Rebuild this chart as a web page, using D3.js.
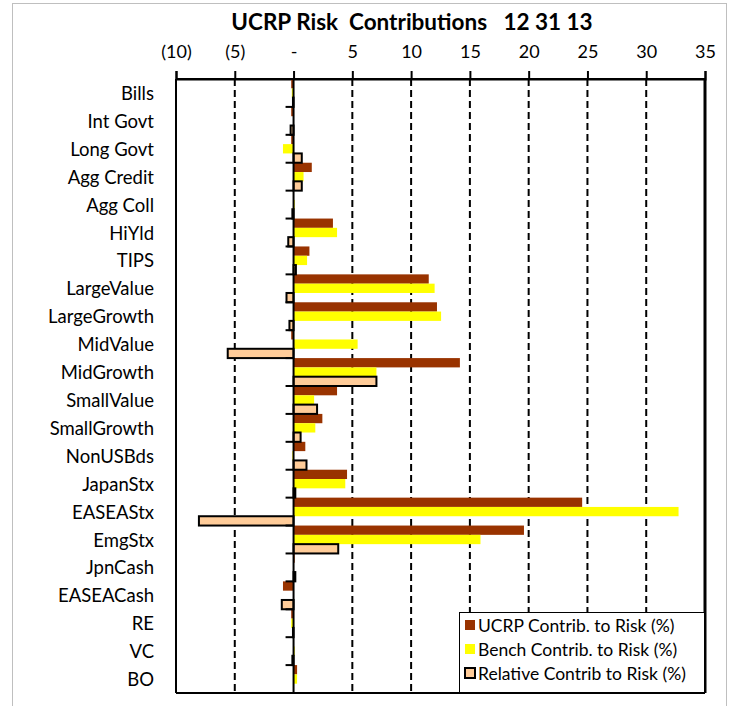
<!DOCTYPE html>
<html>
<head>
<meta charset="utf-8">
<script src="https://cdn.jsdelivr.net/npm/d3@7"></script>
<style>
  body { margin: 0; background: white; }
  text { font-family: Lato, "Open Sans", sans-serif; fill: #000; }
</style>
</head>
<body>
<script>
// data
var categories = ["Bills", "Int Govt", "Long Govt", "Agg Credit", "Agg Coll", "HiYld", "TIPS",
  "LargeValue", "LargeGrowth", "MidValue", "MidGrowth", "SmallValue", "SmallGrowth", "NonUSBds",
  "JapanStx", "EASEAStx", "EmgStx", "JpnCash", "EASEACash", "RE", "VC", "BO"];
var ucrp  = [-0.2, -0.2, -0.2, 1.55, 0.0, 3.35, 1.35, 11.5, 12.2, -0.2, 14.15, 3.7, 2.45, 1.0,
  4.55, 24.55, 19.6, 0.1, -0.9, -0.2, 0.0, 0.3];
var bench = [-0.15, 0.0, -0.9, 0.85, 0.1, 3.7, 1.15, 12.0, 12.55, 5.45, 7.05, 1.75, 1.85, -0.1,
  4.4, 32.75, 15.9, 0.0, 0.0, -0.2, 0.1, 0.3];
var rel   = [-0.05, -0.25, 0.7, 0.7, -0.1, -0.45, 0.2, -0.6, -0.35, -5.6, 7.05, 2.0, 0.6, 1.1,
  0.15, -8.05, 3.8, 0.15, -1.0, -0.05, -0.1, 0.0];
var seriesNames = ["UCRP Contrib. to Risk (%)", "Bench Contrib. to Risk (%)", "Relative Contrib to Risk (%)"];
var tickValues = [-10, -5, 0, 5, 10, 15, 20, 25, 30, 35];

var width = 733, height = 706;
var margin = {top: 79, bottom: 13, left: 176, right: 28};

var svg = d3.select('body').append('svg')
  .attr('width', width)
  .attr('height', height);

// outer frame
svg.append('rect')
  .attr('x', 12.5).attr('y', 3.5)
  .attr('width', 714).attr('height', 710)
  .attr('fill', 'white').attr('stroke', '#bfbfbf');

var xScale = d3.scaleLinear()
  .domain([-10, 35])
  .range([margin.left, width - margin.right]);

var yScale = d3.scaleBand()
  .domain(categories)
  .range([margin.top, height - margin.bottom])
  .padding(0);

var inner = d3.scaleBand()
  .domain([0, 1, 2])
  .range([0, yScale.bandwidth()])
  .padding(0);

var plotTop = margin.top, plotBottom = height - margin.bottom;

// gridlines
svg.selectAll('.grid')
  .data(tickValues.filter(function(d) { return d != -10 && d != 0 && d != 35; }))
  .enter().append('line')
  .attr('class', 'grid')
  .attr('x1', function(d) { return xScale(d); })
  .attr('x2', function(d) { return xScale(d); })
  .attr('y1', plotTop).attr('y2', plotBottom)
  .attr('stroke', 'black')
  .attr('stroke-width', 2)
  .attr('stroke-dasharray', '7,4');

// plot borders
svg.append('line').attr('x1', xScale(-10)).attr('x2', xScale(-10)).attr('y1', plotTop).attr('y2', plotBottom)
  .attr('stroke', 'black').attr('stroke-width', 2);
svg.append('line').attr('x1', xScale(35)).attr('x2', xScale(35)).attr('y1', plotTop).attr('y2', plotBottom)
  .attr('stroke', 'black').attr('stroke-width', 3);
svg.append('line').attr('x1', xScale(-10)).attr('x2', xScale(35)).attr('y1', plotBottom).attr('y2', plotBottom)
  .attr('stroke', 'black').attr('stroke-width', 2);

// top axis
var xAxis = svg.append('g')
  .attr('transform', 'translate(0,' + plotTop + ')')
  .call(d3.axisTop(xScale)
    .tickValues(tickValues)
    .tickSize(8)
    .tickPadding(13)
    .tickFormat(function(d) {
      if (d == 0) return '-';
      if (d < 0) return '(' + (-d) + ')';
      return d;
    }));
xAxis.select('.domain').attr('stroke-width', 2);
xAxis.selectAll('.tick line').attr('stroke-width', 2);
xAxis.selectAll('.tick text').style('font-size', '18px').style('font-family', 'Lato, sans-serif');

// bars
var seriesData = [ucrp, bench, rel];
var fills = ['#993300', '#FFFF00', '#FFCC99'];

seriesData.forEach(function(values, s) {
  svg.selectAll('.bar' + s)
    .data(values)
    .enter().append('rect')
    .attr('class', 'bar' + s)
    .attr('x', function(d) { return xScale(Math.min(0, d)); })
    .attr('y', function(d, i) { return yScale(categories[i]) + inner(s); })
    .attr('width', function(d) { return Math.abs(xScale(d) - xScale(0)); })
    .attr('height', inner.bandwidth())
    .attr('fill', fills[s])
    .attr('stroke', s == 2 ? 'black' : 'none')
    .attr('stroke-width', 2);
});

// zero axis with category ticks
svg.append('line').attr('x1', xScale(0)).attr('x2', xScale(0)).attr('y1', plotTop).attr('y2', plotBottom)
  .attr('stroke', 'black').attr('stroke-width', 2);
svg.selectAll('.ctick')
  .data(categories)
  .enter().append('line')
  .attr('class', 'ctick')
  .attr('x1', xScale(0) - 8).attr('x2', xScale(0))
  .attr('y1', function(d) { return yScale(d) + yScale.bandwidth(); })
  .attr('y2', function(d) { return yScale(d) + yScale.bandwidth(); })
  .attr('stroke', 'black').attr('stroke-width', 2);
svg.append('line').attr('x1', xScale(-10)).attr('x2', xScale(35)).attr('y1', plotTop).attr('y2', plotTop)
  .attr('stroke', 'black').attr('stroke-width', 2);

// category labels
svg.selectAll('.clabel')
  .data(categories)
  .enter().append('text')
  .attr('class', 'clabel')
  .attr('x', 154)
  .attr('y', function(d) { return yScale(d) + yScale.bandwidth() / 2; })
  .attr('text-anchor', 'end')
  .attr('dominant-baseline', 'central')
  .style('font-size', '18.5px')
  .text(function(d) { return d; });

// title
svg.append('text')
  .attr('x', 412).attr('y', 30)
  .attr('text-anchor', 'middle')
  .style('font-size', '22.5px')
  .style('font-weight', 'bold')
  .style('white-space', 'pre')
  .text('UCRP Risk  Contributions   12 31 13');

// legend
var legX = 459, legY = 612;
svg.append('rect').attr('x', legX + 0.5).attr('y', legY + 0.5).attr('width', 245).attr('height', 80)
  .attr('fill', 'white').attr('stroke', 'black');
seriesNames.forEach(function(name, i) {
  var cy = legY + 13 + i * 24;
  svg.append('rect').attr('x', legX + 6).attr('y', cy - 5).attr('width', 10).attr('height', 10)
    .attr('fill', fills[i])
    .attr('stroke', i == 2 ? 'black' : 'none').attr('stroke-width', 2);
  svg.append('text').attr('x', legX + 19).attr('y', cy)
    .attr('dominant-baseline', 'central')
    .style('font-size', '17.5px')
    .text(name);
});
</script>
</body>
</html>
